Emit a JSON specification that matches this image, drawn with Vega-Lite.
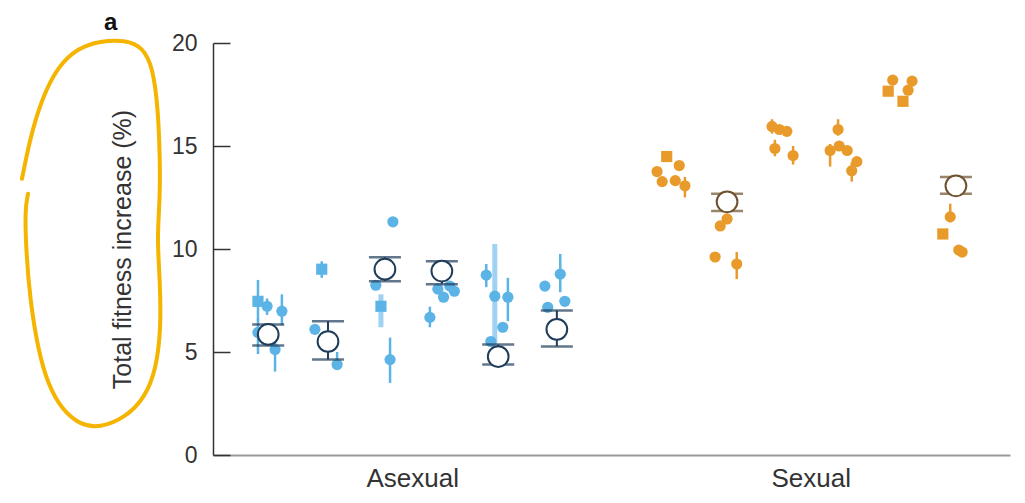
{
  "$schema": "https://vega.github.io/schema/vega-lite/v6.json",
  "autosize": {"type": "none"},
  "padding": {"left": 213, "top": 43, "right": 15, "bottom": 48},
  "width": 797,
  "height": 412,
  "config": {"view": {"stroke": null}, "font": "Liberation Sans"},
  "title": {"text": "a", "anchor": "start", "frame": "group", "dx": -109, "offset": -3, "font": "Liberation Sans", "fontSize": 24, "fontWeight": "bold", "color": "#111"},
  "datasets": {
    "points": [
      {"group": "Asexual", "x": 0.79, "y": 7.46, "lo": 6.5, "hi": 8.5, "marker": "square"},
      {"group": "Asexual", "x": 0.95, "y": 7.22, "lo": 6.8, "hi": 7.6, "marker": "circle"},
      {"group": "Asexual", "x": 1.21, "y": 6.98, "lo": 6.3, "hi": 7.8, "marker": "circle"},
      {"group": "Asexual", "x": 0.79, "y": 5.95, "lo": 4.9, "hi": 6.6, "marker": "circle"},
      {"group": "Asexual", "x": 1.09, "y": 5.12, "lo": 4.05, "hi": 5.8, "marker": "circle"},
      {"group": "Asexual", "x": 1.91, "y": 9.02, "lo": 8.6, "hi": 9.4, "marker": "square"},
      {"group": "Asexual", "x": 1.79, "y": 6.1, "marker": "circle"},
      {"group": "Asexual", "x": 2.18, "y": 4.39, "lo": 4.2, "hi": 5.0, "marker": "circle"},
      {"group": "Asexual", "x": 3.16, "y": 11.32, "marker": "circle"},
      {"group": "Asexual", "x": 2.86, "y": 8.24, "marker": "circle"},
      {"group": "Asexual", "x": 2.95, "y": 7.22, "marker": "square"},
      {"group": "Asexual", "x": 3.11, "y": 4.63, "lo": 3.5, "hi": 5.7, "marker": "circle"},
      {"group": "Asexual", "x": 3.81, "y": 6.68, "lo": 6.2, "hi": 7.2, "marker": "circle"},
      {"group": "Asexual", "x": 3.95, "y": 8.05, "marker": "circle"},
      {"group": "Asexual", "x": 4.16, "y": 8.2, "marker": "circle"},
      {"group": "Asexual", "x": 4.05, "y": 7.66, "marker": "circle"},
      {"group": "Asexual", "x": 4.24, "y": 7.95, "marker": "circle"},
      {"group": "Asexual", "x": 4.8, "y": 8.73, "lo": 8.15, "hi": 9.27, "marker": "circle"},
      {"group": "Asexual", "x": 4.95, "y": 7.71, "marker": "circle"},
      {"group": "Asexual", "x": 5.18, "y": 7.66, "lo": 6.5, "hi": 8.6, "marker": "circle"},
      {"group": "Asexual", "x": 5.09, "y": 6.2, "marker": "circle"},
      {"group": "Asexual", "x": 4.88, "y": 5.51, "marker": "circle"},
      {"group": "Asexual", "x": 5.83, "y": 8.2, "marker": "circle"},
      {"group": "Asexual", "x": 6.1, "y": 8.78, "lo": 7.9, "hi": 9.76, "marker": "circle"},
      {"group": "Asexual", "x": 6.18, "y": 7.46, "marker": "circle"},
      {"group": "Asexual", "x": 5.88, "y": 7.17, "marker": "circle"},
      {"group": "Sexual", "x": 7.97, "y": 14.49, "marker": "square"},
      {"group": "Sexual", "x": 7.8, "y": 13.76, "marker": "circle"},
      {"group": "Sexual", "x": 8.19, "y": 14.05, "marker": "circle"},
      {"group": "Sexual", "x": 7.89, "y": 13.27, "marker": "circle"},
      {"group": "Sexual", "x": 8.12, "y": 13.32, "marker": "circle"},
      {"group": "Sexual", "x": 8.29, "y": 13.07, "lo": 12.5, "hi": 13.5, "marker": "circle"},
      {"group": "Sexual", "x": 8.91, "y": 11.12, "marker": "circle"},
      {"group": "Sexual", "x": 9.03, "y": 11.46, "marker": "circle"},
      {"group": "Sexual", "x": 8.82, "y": 9.61, "marker": "circle"},
      {"group": "Sexual", "x": 9.2, "y": 9.27, "lo": 8.54, "hi": 9.85, "marker": "circle"},
      {"group": "Sexual", "x": 9.82, "y": 15.95, "lo": 15.6, "hi": 16.3, "marker": "circle"},
      {"group": "Sexual", "x": 9.95, "y": 15.8, "marker": "circle"},
      {"group": "Sexual", "x": 10.08, "y": 15.71, "marker": "circle"},
      {"group": "Sexual", "x": 9.87, "y": 14.88, "lo": 14.5, "hi": 15.3, "marker": "circle"},
      {"group": "Sexual", "x": 10.19, "y": 14.54, "lo": 14.1, "hi": 15.0, "marker": "circle"},
      {"group": "Sexual", "x": 10.98, "y": 15.8, "lo": 15.5, "hi": 16.3, "marker": "circle"},
      {"group": "Sexual", "x": 10.84, "y": 14.78, "lo": 14.0, "hi": 15.1, "marker": "circle"},
      {"group": "Sexual", "x": 11.0, "y": 15.0, "marker": "circle"},
      {"group": "Sexual", "x": 11.14, "y": 14.78, "marker": "circle"},
      {"group": "Sexual", "x": 11.31, "y": 14.24, "marker": "circle"},
      {"group": "Sexual", "x": 11.22, "y": 13.8, "lo": 13.27, "hi": 14.2, "marker": "circle"},
      {"group": "Sexual", "x": 11.86, "y": 17.66, "marker": "square"},
      {"group": "Sexual", "x": 11.94, "y": 18.2, "marker": "circle"},
      {"group": "Sexual", "x": 12.28, "y": 18.15, "marker": "circle"},
      {"group": "Sexual", "x": 12.21, "y": 17.71, "marker": "circle"},
      {"group": "Sexual", "x": 12.12, "y": 17.17, "lo": 16.9, "hi": 17.4, "marker": "square"},
      {"group": "Sexual", "x": 12.95, "y": 11.56, "lo": 11.3, "hi": 12.2, "marker": "circle"},
      {"group": "Sexual", "x": 12.82, "y": 10.73, "marker": "square"},
      {"group": "Sexual", "x": 13.16, "y": 9.85, "marker": "circle"},
      {"group": "Sexual", "x": 13.1, "y": 9.95, "marker": "circle"}
    ],
    "wide": [
      {"group": "Asexual", "x": 2.95, "lo": 6.2, "hi": 7.8},
      {"group": "Asexual", "x": 4.95, "lo": 5.37, "hi": 10.24}
    ],
    "means": [
      {"group": "Asexual", "x": 0.97, "y": 5.85, "lo": 5.32, "hi": 6.34},
      {"group": "Asexual", "x": 2.02, "y": 5.51, "lo": 4.63, "hi": 6.49},
      {"group": "Asexual", "x": 3.02, "y": 9.02, "lo": 8.44, "hi": 9.6},
      {"group": "Asexual", "x": 4.02, "y": 8.93, "lo": 8.29, "hi": 9.41},
      {"group": "Asexual", "x": 5.01, "y": 4.78, "lo": 4.39, "hi": 5.37},
      {"group": "Asexual", "x": 6.04, "y": 6.1, "lo": 5.27, "hi": 7.02},
      {"group": "Sexual", "x": 9.03, "y": 12.29, "lo": 11.85, "hi": 12.68},
      {"group": "Sexual", "x": 13.05, "y": 13.07, "lo": 12.68, "hi": 13.5}
    ],
    "loop": [
      {"i": 0, "x": -3.355, "y": 13.41},
      {"i": 1, "x": -3.215, "y": 15.37},
      {"i": 2, "x": -3.004, "y": 17.32},
      {"i": 3, "x": -2.723, "y": 18.88},
      {"i": 4, "x": -2.371, "y": 19.76},
      {"i": 5, "x": -1.985, "y": 20.1},
      {"i": 6, "x": -1.546, "y": 20.15},
      {"i": 7, "x": -1.23, "y": 19.8},
      {"i": 8, "x": -1.054, "y": 18.78},
      {"i": 9, "x": -0.966, "y": 16.83},
      {"i": 10, "x": -0.931, "y": 14.39},
      {"i": 11, "x": -0.931, "y": 12.44},
      {"i": 12, "x": -0.984, "y": 10.49},
      {"i": 13, "x": -0.931, "y": 8.54},
      {"i": 14, "x": -0.913, "y": 6.1},
      {"i": 15, "x": -1.001, "y": 4.15},
      {"i": 16, "x": -1.194, "y": 2.78},
      {"i": 17, "x": -1.546, "y": 1.8},
      {"i": 18, "x": -1.985, "y": 1.32},
      {"i": 19, "x": -2.336, "y": 1.46},
      {"i": 20, "x": -2.652, "y": 2.2},
      {"i": 21, "x": -2.898, "y": 3.41},
      {"i": 22, "x": -3.074, "y": 5.12},
      {"i": 23, "x": -3.215, "y": 7.56},
      {"i": 24, "x": -3.285, "y": 10.0},
      {"i": 25, "x": -3.302, "y": 11.95},
      {"i": 26, "x": -3.25, "y": 12.68}
    ]
  },
  "layer": [
    {
      "data": {"name": "points"},
      "mark": {"type": "point", "opacity": 0},
      "encoding": {
        "x": {"field": "x", "type": "quantitative", "title": null, "scale": {"domain": [0, 14], "nice": false, "zero": false},
          "axis": {"values": [3.5, 10.5], "labelExpr": "datum.value < 7 ? 'Asexual' : 'Sexual'", "ticks": false, "grid": false,
            "domainColor": "#9a9a9a", "domainWidth": 2, "labelFontSize": 26, "labelColor": "#333", "labelPadding": 10}},
        "y": {"field": "y", "type": "quantitative", "title": "Total fitness increase (%)", "scale": {"domain": [0, 20], "nice": false},
          "axis": {"values": [0, 5, 10, 15, 20], "tickSize": -17, "labelPadding": 33, "grid": false,
            "domainColor": "#333", "tickColor": "#333", "domainWidth": 1.5, "tickWidth": 1.5,
            "labelFontSize": 23, "labelColor": "#333", "titleFontSize": 25,
            "titleFontWeight": "normal", "titleColor": "#333", "titlePadding": 36}}
      }
    },
    {
      "data": {"name": "loop"},
      "mark": {"type": "line", "color": "#F4B400", "strokeWidth": 4, "strokeCap": "round", "interpolate": "basis", "clip": false},
      "encoding": {
        "x": {"field": "x", "type": "quantitative", "title": null},
        "y": {"field": "y", "type": "quantitative", "title": "Total fitness increase (%)"},
        "order": {"field": "i"}
      }
    },
    {
      "data": {"name": "wide"},
      "mark": {"type": "rule", "strokeWidth": 5, "color": "#9fd2f2"},
      "encoding": {
        "x": {"field": "x", "type": "quantitative", "title": null},
        "y": {"field": "lo", "type": "quantitative", "title": "Total fitness increase (%)"},
        "y2": {"field": "hi"}
      }
    },
    {
      "data": {"name": "points"},
      "transform": [{"filter": "isValid(datum.lo)"}],
      "mark": {"type": "rule", "strokeWidth": 2.5},
      "encoding": {
        "x": {"field": "x", "type": "quantitative", "title": null},
        "y": {"field": "lo", "type": "quantitative", "title": "Total fitness increase (%)"},
        "y2": {"field": "hi"},
        "color": {"field": "group", "type": "nominal", "scale": {"domain": ["Asexual", "Sexual"], "range": ["#5cb3e6", "#e89b2a"]}, "legend": null}
      }
    },
    {
      "data": {"name": "points"},
      "mark": {"type": "point", "filled": true, "opacity": 1, "size": 125},
      "encoding": {
        "x": {"field": "x", "type": "quantitative", "title": null},
        "y": {"field": "y", "type": "quantitative", "title": "Total fitness increase (%)"},
        "color": {"field": "group", "type": "nominal", "scale": {"domain": ["Asexual", "Sexual"], "range": ["#5cb3e6", "#e89b2a"]}, "legend": null},
        "shape": {"field": "marker", "type": "nominal", "scale": {"domain": ["circle", "square"], "range": ["circle", "square"]}, "legend": null}
      }
    },
    {
      "data": {"name": "means"},
      "mark": {"type": "rule", "strokeWidth": 2},
      "encoding": {
        "x": {"field": "x", "type": "quantitative", "title": null},
        "y": {"field": "lo", "type": "quantitative", "title": "Total fitness increase (%)"},
        "y2": {"field": "hi"},
        "stroke": {"field": "group", "type": "nominal", "scale": {"domain": ["Asexual", "Sexual"], "range": ["#1f3d5a", "#6e512e"]}, "legend": null}
      }
    },
    {
      "data": {"name": "means"},
      "mark": {"type": "tick", "orient": "horizontal", "size": 32, "thickness": 2.5},
      "encoding": {
        "x": {"field": "x", "type": "quantitative", "title": null},
        "y": {"field": "lo", "type": "quantitative", "title": "Total fitness increase (%)"},
        "fill": {"field": "group", "type": "nominal", "scale": {"domain": ["Asexual", "Sexual"], "range": ["#1f3d5a", "#6e512e"]}, "legend": null}
      }
    },
    {
      "data": {"name": "means"},
      "mark": {"type": "tick", "orient": "horizontal", "size": 32, "thickness": 2.5},
      "encoding": {
        "x": {"field": "x", "type": "quantitative", "title": null},
        "y": {"field": "hi", "type": "quantitative", "title": "Total fitness increase (%)"},
        "fill": {"field": "group", "type": "nominal", "scale": {"domain": ["Asexual", "Sexual"], "range": ["#1f3d5a", "#6e512e"]}, "legend": null}
      }
    },
    {
      "data": {"name": "means"},
      "mark": {"type": "point", "shape": "circle", "filled": false, "fill": "white", "fillOpacity": 1, "opacity": 1, "size": 430, "strokeWidth": 2},
      "encoding": {
        "x": {"field": "x", "type": "quantitative", "title": null},
        "y": {"field": "y", "type": "quantitative", "title": "Total fitness increase (%)"},
        "stroke": {"field": "group", "type": "nominal", "scale": {"domain": ["Asexual", "Sexual"], "range": ["#1f3d5a", "#6e512e"]}, "legend": null}
      }
    }
  ]
}
